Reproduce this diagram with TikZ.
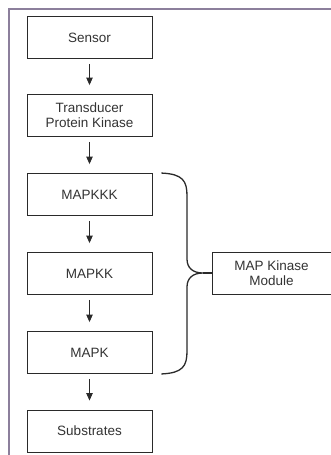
\documentclass[tikz,border=0pt]{standalone}
\usepackage{fontspec}
\setmainfont{Liberation Sans}
\usetikzlibrary{arrows.meta,calc}
\definecolor{framec}{HTML}{8C7F9C}
\definecolor{linec}{HTML}{2A2A2A}
\definecolor{textc}{HTML}{333333}
\begin{document}
\begin{tikzpicture}[x=1pt,y=-1pt,
  stepbox/.style={draw=linec,line width=0.9pt,minimum width=125pt,minimum height=42pt,
    inner sep=1pt,align=center,text=textc,font=\fontsize{13.5}{15}\selectfont},
  modbox/.style={stepbox,minimum width=119pt},
  arr/.style={draw=linec,line width=0.9pt,-{Triangle[width=6.5pt,length=7.5pt]}},
  brace/.style={draw=linec,line width=1.3pt}]
\useasboundingbox (0,0) rectangle (331,455);
% frame
\draw[framec,line width=1.2pt] (9,455) -- (9,9) -- (331,9);
% nodes
\node[stepbox] (sensor) at (89.5,37.5) {Sensor};
\node[stepbox] (trans) at (89.5,115.5) {Transducer\\Protein Kinase};
\node[stepbox] (mapkkk) at (89.5,194.5) {MAPKKK};
\node[stepbox] (mapkk) at (89.5,273.5) {MAPKK};
\node[stepbox] (mapk) at (89.5,352.5) {MAPK};
\node[stepbox] (subs) at (89.5,431) {Substrates};
\node[modbox] (module) at (271.5,273) {MAP Kinase\\Module};
% arrows
\foreach \a/\b in {sensor/trans,trans/mapkkk,mapkkk/mapkk,mapkk/mapk,mapk/subs}
  \draw[arr] ([yshift=-5pt]\a.south) -- ([yshift=9pt]\b.north);
% bracket
\coordinate (bt) at ([xshift=9pt]mapkkk.north east);
\coordinate (bb) at ([xshift=9pt]mapk.south east);
\coordinate (tip) at (203,273);
\draw[brace] (bt) .. controls (183,174) and (187,181) .. (187,196)
  -- (187,259) .. controls (187,268) and (193,273) .. (tip)
  .. controls (193,273) and (187,278) .. (187,287)
  -- (187,351) .. controls (187,366) and (183,373) .. (bb);
\draw[brace] (tip) -- (module.west);
\end{tikzpicture}
\end{document}
